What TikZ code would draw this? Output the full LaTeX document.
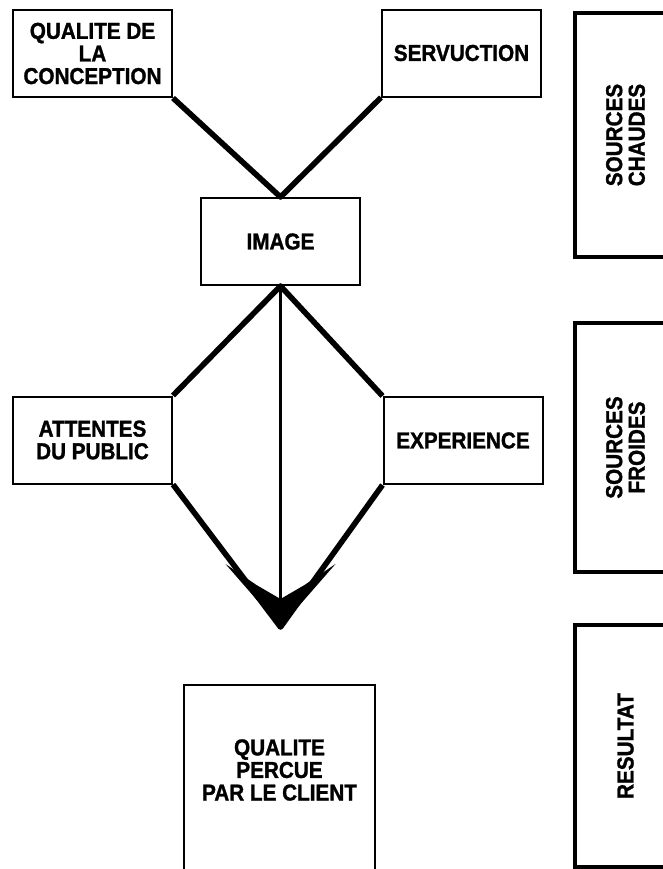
\documentclass[tikz,border=0pt]{standalone}
\usepackage{fontspec}
\setmainfont{Liberation Sans}[FakeStretch=0.9,BoldFeatures={FakeBold=1.3}]
\usetikzlibrary{calc}
\tikzset{
  box/.style={rectangle,draw,line width=1pt,minimum width=79.5pt,
    minimum height=43.5pt,align=center,inner sep=2pt,
    font=\bfseries\fontsize{11.5}{11.3}\selectfont},
  % the three boxes on the right, written upwards
  sidebox/.style={box,rotate=90,line width=1.8pt,minimum height=50.5pt},
  link/.style={line width=2.8pt,line join=round},
  stem/.style={line width=1.5pt}
}
\begin{document}
\begin{tikzpicture}[x=0.5pt,y=-0.5pt]
  \useasboundingbox (0,0) rectangle (663,869);
  \clip (0,0) rectangle (663,869);
  \node[box] (concep) at (92.5,53.5) {QUALITE DE\\LA\\CONCEPTION};
  \node[box] (servu) at (461.5,53) {SERVUCTION};
  \node[box] (image) at (280.5,241.5) {IMAGE};
  \node[box] (attentes) at (92.5,440) {ATTENTES\\DU PUBLIC};
  \node[box] (exper) at (463,440.5) {EXPERIENCE};
  \coordinate (tip) at (280.5,627);
  \node[box,draw=none,minimum width=94.5pt,minimum height=84pt] (percue)
    at (279.5,770) {QUALITE\\PERCUE\\PAR LE CLIENT};
  \draw[line width=1pt] ([yshift=-20pt]percue.south west) -- (percue.north west)
    -- (percue.north east) -- ([yshift=-20pt]percue.south east);
  \draw[link] (concep.south east) -- (image.north) -- (servu.south west);
  \draw[link] (attentes.north east) -- (image.south) -- (exper.north west);
  \draw[link] (attentes.south east) -- (tip) -- (exper.south west);
  \draw[stem] (image.south) -- (tip);
  \fill (tip) -- ++(-55,-63) -- ++(31,21) -- ++(24,14) -- ++(24,-14)
    -- ++(31,-21) -- cycle;
  \node[sidebox,minimum width=122pt] (chaud) at (625.5,135) {SOURCES\\CHAUDES};
  \node[sidebox,minimum width=124.5pt] (froid) at (625.5,447.5) {SOURCES\\FROIDES};
  \node[sidebox,minimum width=121pt] (result) at (625.5,746) {RESULTAT};
\end{tikzpicture}
\end{document}
